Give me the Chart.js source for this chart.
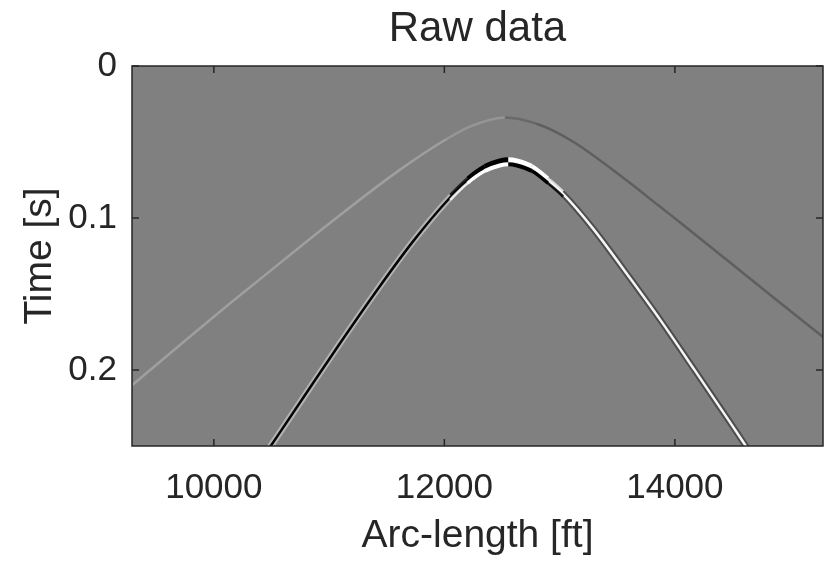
<!DOCTYPE html>
<html>
<head>
<meta charset="utf-8">
<title>Raw data</title>
<script src="https://cdn.jsdelivr.net/npm/chart.js@4.4.1/dist/chart.umd.min.js"></script>
<style>
  html, body { margin: 0; padding: 0; background: #fff; }
  #wrap { width: 833px; height: 563px; }
</style>
</head>
<body>
<div id="wrap"><canvas id="rawChart"></canvas></div>
<script>
// values (arc-length in ft, time in s)
const strongX = [10480, 10800, 11080, 11420, 11730, 12050, 12200, 12350, 12480, 12555, 12630, 12760, 12900, 13030, 13290, 13610, 13870, 14160, 14460, 14620];
const strongT = [0.2515, 0.2155, 0.184, 0.147, 0.1152, 0.0865, 0.0755, 0.0675, 0.0638, 0.063, 0.0638, 0.0675, 0.0755, 0.0842, 0.107, 0.1395, 0.1667, 0.1988, 0.2323, 0.2505];
const faintX = [9290, 10050, 10490, 10920, 11610, 12020, 12250, 12525, 12800, 13100, 13580, 13870, 14040, 14850, 15290];
const faintT = [0.210, 0.1618, 0.1348, 0.1085, 0.0685, 0.048, 0.039, 0.0338, 0.038, 0.049, 0.0752, 0.0925, 0.1026, 0.152, 0.1785];
const xTicks = [10000, 12000, 14000];
const tTicks = [0, 0.1, 0.2];
const xRange = [9290, 15285];
const tRange = [0, 0.25];
const apexStrong = 12555, apexFaint = 12525;

const FONT = "'Liberation Sans', Arial, Helvetica, sans-serif";
const INK = "#262626";

const toPts = (xs, ts) => xs.map((x, i) => ({ x: x, y: ts[i] }));
const midX = ctx => (ctx.p0.parsed.x + ctx.p1.parsed.x) / 2;

// 左右两侧颜色不同（子波极性）
const bySide = (apex, left, right) => ctx => midX(ctx) < apex ? left : right;
// 只在顶点附近显示
const nearApex = (left, right) => ctx => {
  const m = midX(ctx), d = Math.abs(m - apexStrong);
  const a = d < 300 ? 1 : d < 440 ? 0.8 : 0;
  const c = m < apexStrong ? left : right;
  return "rgba(" + c + "," + a + ")";
};
const apexWidth = ctx => {
  const d = Math.abs(midX(ctx) - apexStrong);
  return d < 250 ? 4 : d < 350 ? 3.4 : 2.6;
};
// 弱反射：顶点附近变淡
const faintColor = ctx => {
  const m = midX(ctx), d = Math.abs(m - apexFaint);
  const a = d < 120 ? 0.1 : d < 400 ? 0.22 : 0.32;
  return m < apexFaint ? "rgba(225,225,225," + a + ")" : "rgba(25,25,25," + a + ")";
};

const lineBase = { pointRadius: 0, fill: false, cubicInterpolationMode: "monotone", borderCapStyle: "butt" };

const frame = {
  id: "frame",
  beforeDraw(chart) {
    const { ctx, chartArea: a } = chart;
    ctx.save();
    ctx.fillStyle = "#808080";
    ctx.fillRect(a.left, a.top, a.right - a.left, a.bottom - a.top);
    ctx.restore();
  },
  beforeDatasetDraw(chart, args) {
    const dy = chart.data.datasets[args.index].shiftPx;
    if (dy) { chart.ctx.save(); chart.ctx.translate(0, dy); }
  },
  afterDatasetDraw(chart, args) {
    if (chart.data.datasets[args.index].shiftPx) chart.ctx.restore();
  },
  afterDraw(chart) {
    const { ctx, chartArea: a, scales } = chart;
    ctx.save();
    ctx.strokeStyle = INK;
    ctx.lineWidth = 1.5;
    ctx.strokeRect(a.left, a.top, a.right - a.left, a.bottom - a.top);
    ctx.beginPath();
    xTicks.forEach(v => {
      const px = scales.x.getPixelForValue(v);
      ctx.moveTo(px, a.bottom); ctx.lineTo(px, a.bottom - 7);
      ctx.moveTo(px, a.top); ctx.lineTo(px, a.top + 7);
    });
    tTicks.forEach(v => {
      const py = scales.y.getPixelForValue(v);
      ctx.moveTo(a.left, py); ctx.lineTo(a.left + 7, py);
      ctx.moveTo(a.right, py); ctx.lineTo(a.right - 7, py);
    });
    ctx.stroke();
    ctx.restore();
  }
};

// 注意: Chart.js 先画数组后面的 dataset，所以第一个在最上面
new Chart(document.getElementById("rawChart"), {
  type: "line",
  data: {
    datasets: [
      Object.assign({ label: "apex lower", data: toPts(strongX, strongT), borderWidth: 4, shiftPx: 2.5,
        segment: { borderColor: nearApex("255,255,255", "0,0,0"), borderWidth: apexWidth } }, lineBase),
      Object.assign({ label: "apex upper", data: toPts(strongX, strongT), borderWidth: 4, shiftPx: -2.5,
        segment: { borderColor: nearApex("0,0,0", "255,255,255"), borderWidth: apexWidth } }, lineBase),
      Object.assign({ label: "strong", data: toPts(strongX, strongT), borderWidth: 2.5,
        segment: { borderColor: bySide(apexStrong, "#050505", "#f5f5f5") } }, lineBase),
      Object.assign({ label: "strong halo", data: toPts(strongX, strongT), borderWidth: 6.5,
        segment: { borderColor: bySide(apexStrong, "rgba(255,255,255,0.4)", "rgba(0,0,0,0.4)") } }, lineBase),
      Object.assign({ label: "faint", data: toPts(faintX, faintT), borderWidth: 2.5,
        segment: { borderColor: faintColor } }, lineBase)
    ]
  },
  options: {
    responsive: true,
    maintainAspectRatio: false,
    animation: false,
    layout: { padding: { left: 0, right: 10, top: 0, bottom: 0 } },
    plugins: {
      legend: { display: false },
      tooltip: { enabled: false },
      title: { display: false }
    },
    scales: {
      x: {
        type: "linear", min: xRange[0], max: xRange[1],
        grid: { display: false }, border: { display: false },
        afterBuildTicks: s => { s.ticks = xTicks.map(v => ({ value: v })); },
        afterFit: s => { s.height = 117; },
        ticks: { color: INK, font: { family: FONT, size: 35 }, padding: 13, maxRotation: 0, autoSkip: false,
          callback: v => String(v) },
        title: { display: true, text: "Arc-length [ft]", color: INK,
          font: { family: FONT, size: 39 }, padding: { top: 0, bottom: 3 } }
      },
      // 顶部轴只用来放标题，使其居中于绘图区
      top: {
        type: "linear", position: "top", min: xRange[0], max: xRange[1],
        grid: { display: false }, border: { display: false },
        ticks: { display: false },
        afterFit: s => { s.height = 66; },
        title: { display: true, text: "Raw data", color: INK,
          font: { family: FONT, size: 42 }, padding: { top: 4, bottom: 0 } }
      },
      y: {
        type: "linear", reverse: true, min: tRange[0], max: tRange[1],
        grid: { display: false }, border: { display: false },
        afterBuildTicks: s => { s.ticks = tTicks.map(v => ({ value: v })); },
        afterFit: s => { s.width = 132; },
        ticks: { color: INK, font: { family: FONT, size: 35 }, padding: 7, autoSkip: false,
          callback: v => String(v) },
        title: { display: true, text: "Time [s]", color: INK,
          font: { family: FONT, size: 39 }, padding: { top: 17, bottom: 0 } }
      }
    }
  },
  plugins: [frame]
});
</script>
</body>
</html>
